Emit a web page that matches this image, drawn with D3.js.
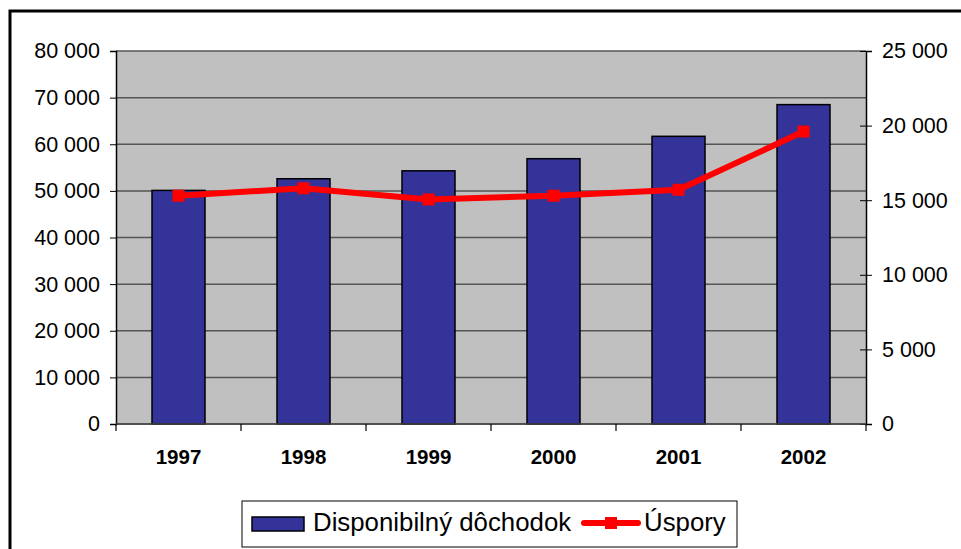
<!DOCTYPE html>
<html>
<head>
<meta charset="utf-8">
<script src="https://cdn.jsdelivr.net/npm/d3@7"></script>
<style>
  body { margin: 0; background: #fff; }
  text { font-family: "Liberation Sans", Arial, sans-serif; }
</style>
</head>
<body>
<div id="graf"></div>
<script>
// Údaje
const roky = ["1997", "1998", "1999", "2000", "2001", "2002"];
const dochodok = [50100, 52600, 54300, 56900, 61700, 68500];
const uspory = [15300, 15800, 15050, 15300, 15700, 19600];
const tickyLave = [0, 10000, 20000, 30000, 40000, 50000, 60000, 70000, 80000];
const tickyPrave = [0, 5000, 10000, 15000, 20000, 25000];
const nazvy = ["Disponibilný dôchodok", "Úspory"];

const W = 961, H = 549;
const plot = { left: 116, right: 866, top: 51, bottom: 424 };

const fmt = v => d3.format(",")(v).replace(/,/g, " ");

const svg = d3.select("#graf")
    .append("svg")
    .attr("width", W)
    .attr("height", H);

// Rámček
svg.append("rect")
    .attr("x", 10).attr("y", 11)
    .attr("width", W + 20).attr("height", H + 20)
    .attr("fill", "#fff")
    .attr("stroke", "#000")
    .attr("stroke-width", 3);

// Škály
const x = d3.scaleBand()
    .domain(roky)
    .range([plot.left, plot.right])
    .paddingInner(0.576)
    .paddingOuter(0.288);

const xKat = d3.scaleBand()
    .domain(roky)
    .range([plot.left, plot.right]);

const yL = d3.scaleLinear().domain([0, 80000]).range([plot.bottom, plot.top]);
const yP = d3.scaleLinear().domain([0, 25000]).range([plot.bottom, plot.top]);

// Pozadie
svg.append("rect")
    .attr("x", plot.left).attr("y", plot.top)
    .attr("width", plot.right - plot.left)
    .attr("height", plot.bottom - plot.top)
    .attr("fill", "#c0c0c0");

// Mriežka
svg.append("g")
    .selectAll("line")
    .data(tickyLave)
    .enter()
    .append("line")
    .attr("x1", plot.left).attr("x2", plot.right)
    .attr("y1", d => yL(d)).attr("y2", d => yL(d))
    .attr("stroke", "#555")
    .attr("stroke-width", 1.5);

// Stĺpce
svg.append("g")
    .selectAll("rect")
    .data(roky)
    .enter()
    .append("rect")
    .attr("x", d => x(d))
    .attr("y", (d, i) => yL(dochodok[i]))
    .attr("width", x.bandwidth())
    .attr("height", (d, i) => plot.bottom - yL(dochodok[i]))
    .attr("fill", "#333399")
    .attr("stroke", "#000")
    .attr("stroke-width", 1.5);

// Ľavá os
const osL = svg.append("g")
    .attr("transform", `translate(${plot.left},0)`)
    .call(d3.axisLeft(yL).tickValues(tickyLave).tickSize(6).tickPadding(10).tickFormat(fmt));
osL.select(".domain").attr("stroke", "#000").attr("stroke-width", 1.5);
osL.selectAll("text").attr("font-size", 21.5).attr("fill", "#000")
    .style("font-family", "'Liberation Sans', Arial, sans-serif");

// Pravá os
const osP = svg.append("g")
    .attr("transform", `translate(${plot.right},0)`)
    .call(d3.axisRight(yP).tickValues(tickyPrave).tickSize(6).tickPadding(10).tickFormat(fmt));
osP.select(".domain").attr("stroke", "#000").attr("stroke-width", 1.5);
osP.selectAll(".tick line").attr("x1", -6);
osP.selectAll("text").attr("font-size", 21.5).attr("fill", "#000")
    .style("font-family", "'Liberation Sans', Arial, sans-serif");

// Spodná os
svg.append("line")
    .attr("x1", plot.left).attr("x2", plot.right)
    .attr("y1", plot.bottom).attr("y2", plot.bottom)
    .attr("stroke", "#444").attr("stroke-width", 1.5);

const hranice = roky.map(d => xKat(d)).concat([plot.right]);
svg.append("g")
    .selectAll("line")
    .data(hranice)
    .enter()
    .append("line")
    .attr("x1", d => d).attr("x2", d => d)
    .attr("y1", plot.bottom).attr("y2", plot.bottom + 7)
    .attr("stroke", "#000").attr("stroke-width", 1.2);

svg.append("g")
    .selectAll("text")
    .data(roky)
    .enter()
    .append("text")
    .attr("x", d => x(d) + x.bandwidth() / 2)
    .attr("y", 464)
    .attr("text-anchor", "middle")
    .attr("font-size", 20.5)
    .attr("font-weight", "bold")
    .text(d => d);

// Čiara úspor
const ciara = d3.line()
    .x((d, i) => x(roky[i]) + x.bandwidth() / 2)
    .y(d => yP(d));

svg.append("path")
    .datum(uspory)
    .attr("d", ciara)
    .attr("fill", "none")
    .attr("stroke", "#ff0000")
    .attr("stroke-width", 6)
    .attr("stroke-linejoin", "round");

svg.append("g")
    .selectAll("rect")
    .data(uspory)
    .enter()
    .append("rect")
    .attr("x", (d, i) => x(roky[i]) + x.bandwidth() / 2 - 6)
    .attr("y", d => yP(d) - 6)
    .attr("width", 12).attr("height", 12)
    .attr("fill", "#ff0000");

// Legenda
const leg = svg.append("g");
leg.append("rect")
    .attr("x", 242).attr("y", 501)
    .attr("width", 495).attr("height", 46)
    .attr("fill", "#fff")
    .attr("stroke", "#000")
    .attr("stroke-width", 1);
leg.append("rect")
    .attr("x", 252).attr("y", 517)
    .attr("width", 52).attr("height", 14)
    .attr("fill", "#333399")
    .attr("stroke", "#000")
    .attr("stroke-width", 1.5);
leg.append("text")
    .attr("x", 313).attr("y", 531)
    .attr("font-size", 25.8)
    .text(nazvy[0]);
leg.append("line")
    .attr("x1", 584).attr("x2", 638)
    .attr("y1", 523).attr("y2", 523)
    .attr("stroke", "#ff0000")
    .attr("stroke-width", 6)
    .attr("stroke-linecap", "round");
leg.append("rect")
    .attr("x", 605).attr("y", 517)
    .attr("width", 12).attr("height", 12)
    .attr("fill", "#ff0000");
leg.append("text")
    .attr("x", 644).attr("y", 531)
    .attr("font-size", 25.8)
    .text(nazvy[1]);
</script>
</body>
</html>
